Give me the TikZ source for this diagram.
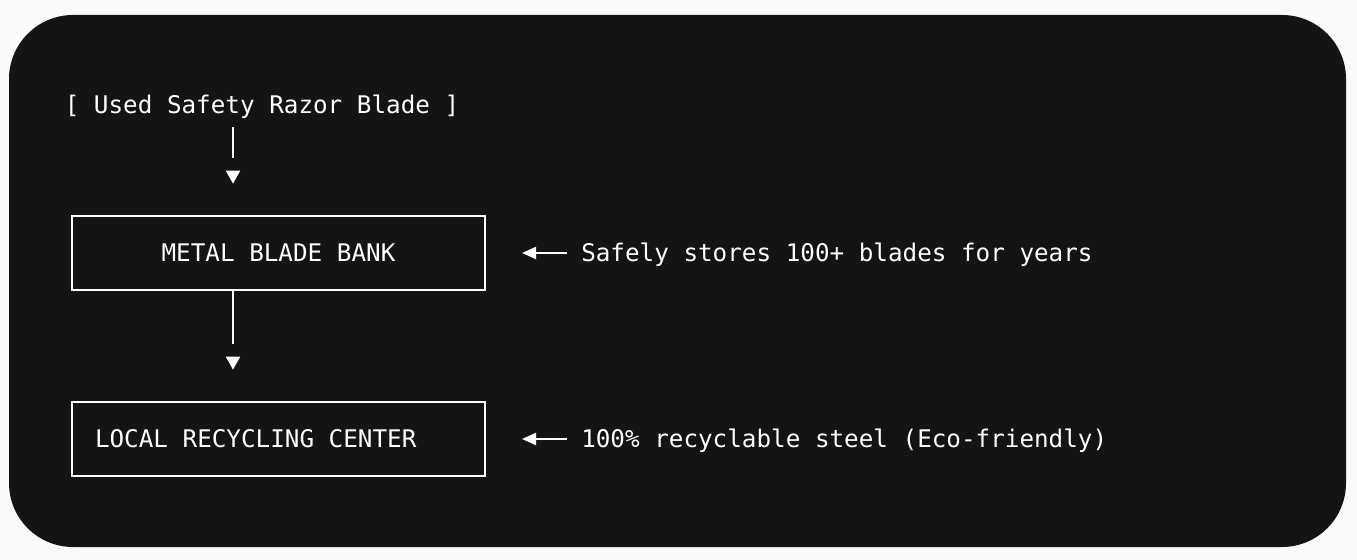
\documentclass[tikz,border=0pt]{standalone}
\usepackage{fontspec}
\setmonofont{DejaVu Sans Mono}
\usetikzlibrary{positioning,arrows.meta}
\definecolor{panel}{HTML}{141414}
\definecolor{page}{HTML}{FAFAFA}

\begin{document}
\begin{tikzpicture}[
		x=0.75pt,y=-0.75pt,
		every node/.style={font=\ttfamily\fontsize{18.2}{22}\selectfont,text=white,inner sep=0pt},
		capline/.style={text height=13.3pt,text depth=0pt},
		bladebox/.style={draw=white,line width=1.5pt,minimum width=309.75pt,minimum height=55.5pt,capline},
		leftbox/.style={bladebox,inner xsep=17.25pt},
		flow/.style={draw=panel,line width=1.5pt,shorten <=9.5pt,shorten >=23.5pt,
			-{Triangle[length=9.75pt,width=10.5pt,color=white]},
			postaction={draw=white,-,shorten >=43pt}},
		note/.style={draw=white,line width=1.5pt,shorten <=10.5pt,shorten >=27pt,
			-{Triangle[length=10.5pt,width=9pt]}}
	]
	\fill[page] (0,0) rectangle (1357,560);
	\fill[panel,rounded corners=48pt] (9,15) rectangle (1346,547);
	\useasboundingbox (0,0) rectangle (1357,560);

	\coordinate (spine) at (233,0);
	\node[capline] (used) at (262,105) {[ Used Safety Razor Blade ]};
	\node[bladebox] (bank) at (278.5,253) {METAL BLADE BANK};
	\node[leftbox,below=82.5pt of bank] (recycle) {\makebox[275.25pt][l]{LOCAL RECYCLING CENTER}};

	\node[capline,right=71.25pt of bank] (stores) {Safely stores 100+ blades for years};
	\node[capline,right=71.25pt of recycle] (steel) {100\% recyclable steel (Eco-friendly)};

	\draw[flow] (used.south -| spine) -- (bank.north -| spine);
	\draw[flow,shorten <=0pt] (bank.south -| spine) -- (recycle.north -| spine);
	\draw[note] (stores.west) -- (bank.east);
	\draw[note] (steel.west) -- (recycle.east);
\end{tikzpicture}
\end{document}
